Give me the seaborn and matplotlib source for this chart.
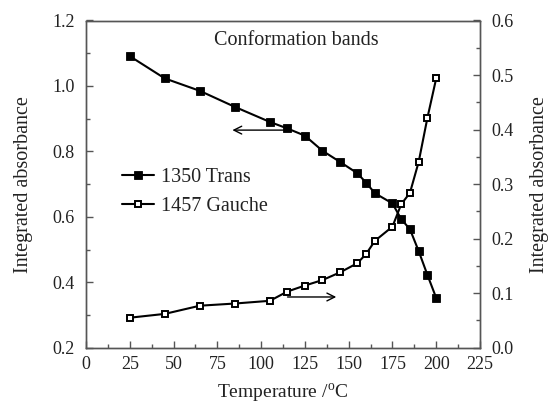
import matplotlib
matplotlib.use("Agg")
import matplotlib.pyplot as plt
import seaborn as sns
import pandas as pd
from matplotlib.ticker import MultipleLocator, FormatStrFormatter
from matplotlib.lines import Line2D

temps = [25, 45, 65, 85, 105, 115, 125, 135, 145, 155, 160, 165, 175, 180, 185, 190, 195, 200]
trans = [1.091, 1.023, 0.985, 0.936, 0.890, 0.870, 0.848, 0.802, 0.768, 0.733,
         0.704, 0.672, 0.641, 0.593, 0.562, 0.495, 0.422, 0.352]
gauche = [0.055, 0.062, 0.077, 0.081, 0.086, 0.103, 0.114, 0.124, 0.138, 0.155,
          0.172, 0.196, 0.222, 0.263, 0.284, 0.341, 0.422, 0.494]
labels = ["1350 Trans", "1457 Gauche"]

sns.set_style("ticks")
plt.rcParams["font.family"] = ["Liberation Serif", "DejaVu Serif"]
plt.rcParams["mathtext.fontset"] = "custom"
plt.rcParams["mathtext.rm"] = "Liberation Serif"

df = pd.DataFrame({"T": temps, "trans": trans, "gauche": gauche})

fig = plt.figure(figsize=(5.5, 4.05), dpi=100)
ax = fig.add_axes([86 / 550, 1 - 347.7 / 405, 394 / 550, 327.2 / 405])
ax2 = ax.twinx()

sns.lineplot(data=df, x="T", y="trans", ax=ax, color="black", lw=1.5,
             marker="s", markersize=5.6, markerfacecolor="black",
             markeredgecolor="black", markeredgewidth=0.6)
sns.lineplot(data=df, x="T", y="gauche", ax=ax2, color="black", lw=1.5,
             marker="s", markersize=4.6, markerfacecolor="white",
             markeredgecolor="black", markeredgewidth=1.4)

ax.set_xlim(0, 225)
ax.set_ylim(0.2, 1.2)
ax2.set_ylim(0.0, 0.6)

spine_col = "#555555"
txt_col = "#222222"
for a in (ax, ax2):
    for s in a.spines.values():
        s.set_color(spine_col)
        s.set_linewidth(1.0)

ax.xaxis.set_major_locator(MultipleLocator(25))
ax.xaxis.set_minor_locator(MultipleLocator(12.5))
ax.yaxis.set_major_locator(MultipleLocator(0.2))
ax.yaxis.set_minor_locator(MultipleLocator(0.1))
ax.yaxis.set_major_formatter(FormatStrFormatter("%.1f"))
ax2.yaxis.set_major_locator(MultipleLocator(0.1))
ax2.yaxis.set_minor_locator(MultipleLocator(0.05))
ax2.yaxis.set_major_formatter(FormatStrFormatter("%.1f"))

for a in (ax, ax2):
    a.tick_params(which="major", direction="in", length=5, width=1.0,
                  color=spine_col, labelsize=13, labelcolor=txt_col, pad=8)
    a.tick_params(which="minor", direction="in", length=3, width=1.0,
                  color=spine_col)
ax.tick_params(axis="x", which="major", pad=6)
ax.tick_params(axis="y", which="both", right=False)
ax2.tick_params(axis="y", which="both", left=False)

ax.set_xlabel("Temperature /$^{\\mathrm{o}}$C", fontsize=14, labelpad=6, color=txt_col)
ax.set_ylabel("Integrated absorbance", fontsize=14.5, labelpad=14, color=txt_col)
ax2.set_ylabel("Integrated absorbance", fontsize=14.5, labelpad=12, rotation=90, color=txt_col)

ax.text(0.535, 0.94, "Conformation bands", transform=ax.transAxes,
        ha="center", va="center", fontsize=14.5, color=txt_col)

# arrows pointing to respective axes
ax.annotate("", xy=(82, 0.865), xytext=(115, 0.865),
            arrowprops=dict(arrowstyle="->", color="black", lw=1.0,
                            mutation_scale=14))
ax2.annotate("", xy=(144.5, 0.093), xytext=(113.5, 0.093),
             arrowprops=dict(arrowstyle="->", color="black", lw=1.0,
                             mutation_scale=14))

handles = [
    Line2D([], [], color="black", lw=1.5, marker="s", markersize=5.6,
           markerfacecolor="black", markeredgecolor="black", markeredgewidth=0.6),
    Line2D([], [], color="black", lw=1.5, marker="s", markersize=4.6,
           markerfacecolor="white", markeredgecolor="black", markeredgewidth=1.4),
]
leg = ax.legend(handles, labels, loc="center left", bbox_to_anchor=(0.045, 0.475),
                frameon=False, fontsize=14.5, handlelength=1.6, handletextpad=0.35,
                labelspacing=0.5, labelcolor=txt_col)
if ax2.get_legend() is not None:
    ax2.get_legend().remove()

fig.savefig("out.png", dpi=100)
